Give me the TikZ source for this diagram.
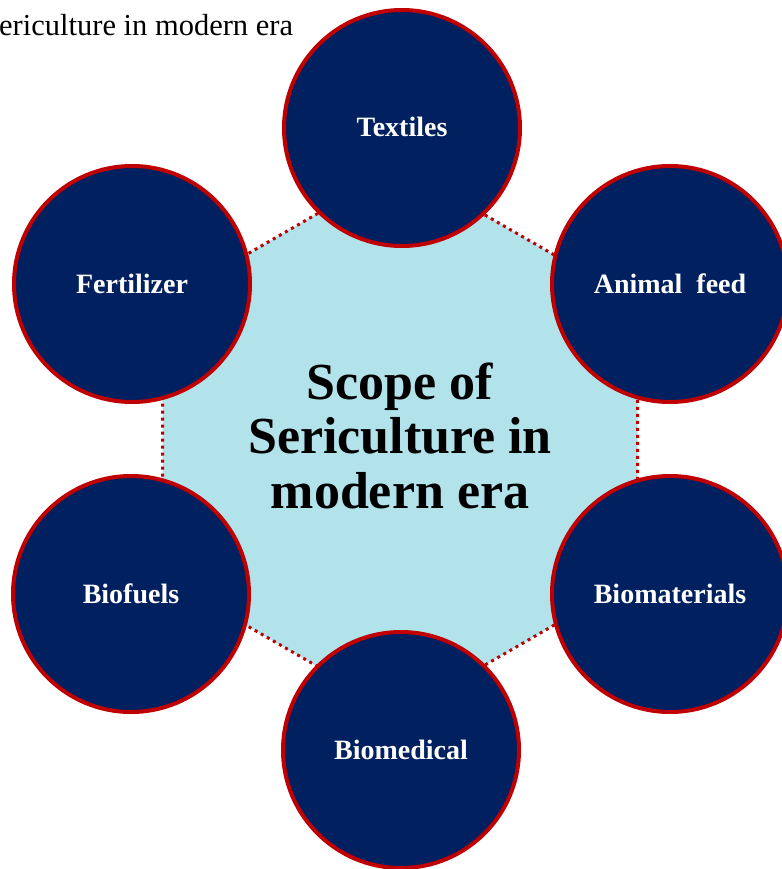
\documentclass[tikz,border=0pt]{standalone}
\usepackage{fontspec}
\setmainfont{Liberation Serif}
\definecolor{navy}{HTML}{002060}
\definecolor{redline}{HTML}{C00000}
\definecolor{aqua}{RGB}{178,226,234}
\begin{document}
\begin{tikzpicture}[x=1pt,y=-1pt,
  topic/.style={circle,draw=redline,line width=4pt,fill=navy,minimum size=236pt,inner sep=0pt},
  topiclabel/.style={anchor=base,text=white,font=\bfseries\fontsize{28}{30}\selectfont},
  hubline/.style={anchor=base,font=\bfseries\fontsize{52}{54.5}\selectfont},
  hub/.style={draw=redline,line width=3pt,dash pattern=on 3pt off 4pt,fill=aqua}]
\useasboundingbox (0,0) rectangle (781,869);
% central hexagon
\coordinate (h1) at (400,166);
\coordinate (h2) at (637.5,303);
\coordinate (h3) at (637.5,577);
\coordinate (h4) at (400,714);
\coordinate (h5) at (162.5,577);
\coordinate (h6) at (162.5,303);
\draw[hub] (h1) -- (h2) -- (h3) -- (h4) -- (h5) -- (h6) -- cycle;
\node[hubline] (l1) at (400,399) {Scope of};
\node[hubline] (l2) at (400,453) {Sericulture in};
\node[hubline] (l3) at (400,508) {modern era};
% surrounding circles
\node[topic] (tex) at (402,128) {};
\node[topic] (fer) at (132,284) {};
\node[topic] (ani) at (670,284) {};
\node[topic] (bfu) at (131,594) {};
\node[topic] (bma) at (670,594) {};
\node[topic] (bme) at (401,750) {};
\node[topiclabel] at ([yshift=-9pt]tex.center) {Textiles};
\node[topiclabel] at ([yshift=-9pt]fer.center) {Fertilizer};
\node[topiclabel] at ([yshift=-9pt]ani.center) {Animal\ \ feed};
\node[topiclabel] at ([yshift=-9pt]bfu.center) {Biofuels};
\node[topiclabel] at ([yshift=-9pt]bma.center) {Biomaterials};
\node[topiclabel] at ([yshift=-9pt]bme.center) {Biomedical};
% caption fragment
\node[anchor=base west,inner sep=0pt,font=\fontsize{30.5}{32}\selectfont] (cap) at (-1,36) {ericulture in modern era};
\end{tikzpicture}
\end{document}
